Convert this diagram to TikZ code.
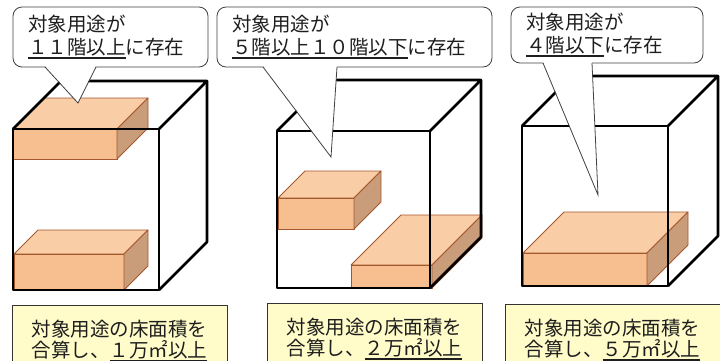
\documentclass[tikz,border=0pt]{standalone}
\usepackage{fontspec}
\setmainfont{Noto Sans CJK JP}
\definecolor{blockfront}{HTML}{F7BF8F}
\definecolor{blocktop}{HTML}{F9CDA6}
\definecolor{blockside}{HTML}{C99D7A}
\definecolor{blockline}{HTML}{A4582E}
\definecolor{notefill}{HTML}{FFFCC9}
\definecolor{inktext}{HTML}{1E1E1E}
\tikzstyle{cube edge}=[line width=2.6pt, line join=round, black]
\tikzstyle{block face}=[draw=blockline, line width=0.8pt, line join=round]
\tikzstyle{balloon}=[draw=black!75, fill=white, rounded corners=9pt, line width=0.8pt, inner xsep=15pt, inner ysep=0pt, align=left, minimum height=60pt, text=inktext, font=\fontsize{19.5}{23}\selectfont]
\tikzstyle{tail}=[draw=black!75, line width=0.8pt]
\tikzstyle{total}=[draw=black!80, fill=notefill, line width=0.8pt, anchor=north, minimum height=71pt, inner xsep=0pt, text width=215pt, align=center, text=inktext, font=\fontsize{19.5}{21}\selectfont]
% underlined part of a label
\newcommand{\uln}[1]{\vtop{\hbox{#1}\kern0.9pt\hrule height 1.6pt}}
% x, y of front top-left corner, width, height, depth
\newcommand{\floorblock}[5]{%
  \path[block face, fill=blocktop] (#1,#2) -- (#1+#5,#2-#5) -- (#1+#3+#5,#2-#5) -- (#1+#3,#2) -- cycle;
  \path[block face, fill=blockfront] (#1,#2) rectangle (#1+#3,#2+#4);
  \path[block face, fill=blockside] (#1+#3,#2) -- (#1+#3+#5,#2-#5) -- (#1+#3+#5,#2+#4-#5) -- (#1+#3,#2+#4) -- cycle;}
\newcommand{\cubeframe}[5]{%
  \draw[cube edge] (#1,#2) rectangle (#1+#3,#2+#4);
  \draw[cube edge] (#1,#2) -- (#1+#5,#2-#5) -- (#1+#3+#5,#2-#5) -- (#1+#3,#2);
  \draw[cube edge] (#1+#3+#5,#2-#5) -- (#1+#3+#5,#2+#4-#5) -- (#1+#3,#2+#4);}

\begin{document}
\begin{tikzpicture}[x=1pt, y=-1pt]
  \useasboundingbox (0,0) rectangle (720,360);

  % floors in use
  \floorblock{13}{129}{104}{30}{31}
  \floorblock{14}{254}{110}{36}{24}
  \floorblock{278}{198}{76}{31}{27}
  \floorblock{351}{265}{81}{23}{50}
  \floorblock{523}{253}{124}{33}{41}

  % buildings
  \cubeframe{13}{129}{146}{161}{48}
  \cubeframe{277}{131}{153}{157}{51}
  \cubeframe{522}{126}{146}{160}{50}

  % balloons
  \node[balloon, text width=165pt] (call1) at (110.5,37)
    {\mbox{対象用途が}\\\mbox{\uln{１１階以上}に存在}};
  \node[balloon, text width=245pt] (call2) at (354.5,37)
    {\mbox{対象用途が}\\\mbox{\uln{５階以上１０階以下}に存在}};
  \node[balloon, text width=162pt, minimum height=56pt] (call3) at (607,35)
    {\mbox{対象用途が}\\\mbox{\uln{４階以下}に存在}};

  \coordinate (tip1) at (78,103);
  \coordinate (tip2) at (331,157);
  \coordinate (tip3) at (598,195);
  \fill[white] (45,65.5) -- (tip1) -- (96,65.5) -- cycle;
  \draw[tail] (45,67) -- (tip1) -- (96,67);
  \fill[white] (263,65.5) -- (tip2) -- (337,65.5) -- cycle;
  \draw[tail] (263,67) -- (tip2) -- (337,67);
  \fill[white] (543,61.5) -- (tip3) -- (592,61.5) -- cycle;
  \draw[tail] (543,63) -- (tip3) -- (592,63);

  % totals
  \node[total] (sum1) at (119.5,305)
    {\mbox{対象用途の床面積を}\\\mbox{合算し、\uln{１万㎡以上}}};
  \node[total] (sum2) at (374.5,303)
    {\mbox{対象用途の床面積を}\\\mbox{合算し、\uln{２万㎡以上}}};
  \node[total] (sum3) at (612.5,304)
    {\mbox{対象用途の床面積を}\\\mbox{合算し、\uln{５万㎡以上}}};
\end{tikzpicture}
\end{document}
